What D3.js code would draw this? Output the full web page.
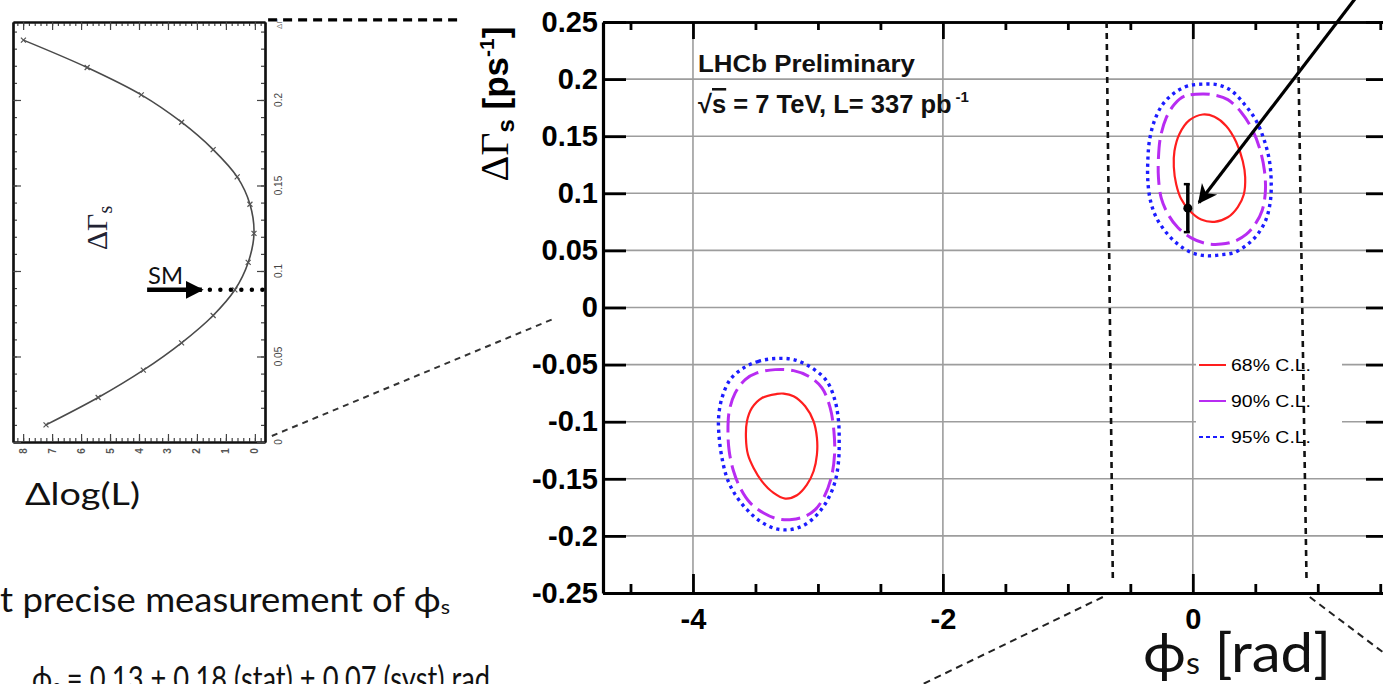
<!DOCTYPE html>
<html lang="en">
<head>
    <meta charset="UTF-8">
    <title>phi_s vs DeltaGamma_s</title>
    <script src="https://cdn.jsdelivr.net/npm/d3@7"></script>
    <style>
    html, body { padding: 0; margin: 0; background: #fff; }
    svg { display: block; }
    .slide { font-family: Lato, 'Open Sans', 'DejaVu Sans', sans-serif; fill: #111; }
    .plot text { font-family: 'Liberation Sans', Arial, sans-serif; }
    </style>
</head>
<body>
<div id="chart"></div>
<script>
// ---- main plot: ticks
const phiMajor = [-4, -2, 0];
const phiMinor = [-4.5, -3.5, -3, -2.5, -1.5, -1, -0.5, 0.5, 1, 1.5];
const dgTicks = [-0.25, -0.2, -0.15, -0.1, -0.05, 0, 0.05, 0.1, 0.15, 0.2, 0.25];
const dgGrid = [-0.2, -0.15, -0.1, -0.05, 0, 0.05, 0.1, 0.15, 0.2];

// ---- contours, [phi_s, DeltaGamma_s]
const c68Upper = [[0.080,0.169],[-0.027,0.164],[-0.107,0.152],[-0.147,0.137],[-0.152,0.123],[-0.133,0.108],[-0.093,0.095],[-0.027,0.085],[0.067,0.077],[0.173,0.075],[0.280,0.079],[0.360,0.088],[0.408,0.099],[0.419,0.114],[0.400,0.128],[0.347,0.145],[0.267,0.159],[0.173,0.167]];
const c90Upper = [[0.080,0.187],[-0.067,0.185],[-0.147,0.178],[-0.213,0.166],[-0.259,0.149],[-0.275,0.131],[-0.275,0.114],[-0.253,0.096],[-0.200,0.082],[-0.120,0.070],[-0.013,0.061],[0.107,0.056],[0.227,0.0555],[0.333,0.058],[0.427,0.064],[0.499,0.073],[0.555,0.085],[0.581,0.102],[0.573,0.120],[0.541,0.137],[0.480,0.155],[0.387,0.171],[0.280,0.182],[0.173,0.186]];
const c95Upper = [[0.080,0.1956],[-0.040,0.194],[-0.147,0.188],[-0.240,0.178],[-0.307,0.1635],[-0.347,0.146],[-0.360,0.1285],[-0.360,0.111],[-0.339,0.0935],[-0.293,0.079],[-0.213,0.0657],[-0.120,0.0555],[-0.013,0.0482],[0.107,0.0453],[0.227,0.0462],[0.333,0.0482],[0.440,0.0555],[0.520,0.0643],[0.587,0.0774],[0.621,0.0935],[0.627,0.111],[0.613,0.1285],[0.573,0.146],[0.507,0.1635],[0.413,0.178],[0.307,0.190],[0.200,0.195]];
const c68Lower = [[-3.328,-0.0757],[-3.448,-0.0792],[-3.528,-0.0879],[-3.568,-0.0996],[-3.576,-0.1142],[-3.560,-0.1288],[-3.515,-0.1405],[-3.448,-0.1522],[-3.355,-0.1624],[-3.262,-0.1673],[-3.168,-0.1644],[-3.088,-0.1551],[-3.035,-0.1434],[-3.008,-0.1288],[-3.008,-0.1142],[-3.035,-0.0996],[-3.102,-0.0865],[-3.195,-0.0777],[-3.275,-0.0754]];
const c90Lower = [[-3.342,-0.0544],[-3.488,-0.0573],[-3.582,-0.0631],[-3.662,-0.0748],[-3.710,-0.0909],[-3.720,-0.1084],[-3.710,-0.1259],[-3.675,-0.1434],[-3.622,-0.158],[-3.542,-0.1711],[-3.435,-0.1799],[-3.328,-0.1849],[-3.208,-0.1857],[-3.102,-0.1828],[-3.022,-0.177],[-2.955,-0.1668],[-2.894,-0.1492],[-2.867,-0.1288],[-2.872,-0.1084],[-2.902,-0.0879],[-2.968,-0.0704],[-3.075,-0.0602],[-3.195,-0.0553]];
const c95Lower = [[-3.342,-0.0447],[-3.475,-0.0471],[-3.595,-0.0529],[-3.702,-0.0631],[-3.768,-0.0792],[-3.795,-0.0967],[-3.790,-0.1142],[-3.768,-0.1317],[-3.728,-0.1492],[-3.662,-0.1638],[-3.568,-0.1770],[-3.462,-0.1872],[-3.342,-0.1936],[-3.222,-0.1945],[-3.102,-0.1901],[-2.995,-0.1799],[-2.915,-0.1668],[-2.862,-0.1522],[-2.835,-0.1346],[-2.830,-0.1171],[-2.835,-0.0996],[-2.862,-0.0821],[-2.928,-0.0646],[-3.048,-0.0529],[-3.195,-0.0456]];

const clLabels = ["68% C.L.", "90% C.L.", "95% C.L."];
const clColors = ["#ff1e1e", "#b82cf2", "#1c1cff"];

// SM prediction
const smPhi = -0.04, smDG = 0.087, smErr = 0.021;
// annotation arrow and slide guide lines (phi_s, DeltaGamma_s)
const arrowFrom = [1.66, 0.322], arrowTo = [0.05, 0.092];
const guideLeft = [[-0.69, 0.25], [-0.64, -0.239]];
const guideRight = [[0.84, 0.25], [0.91, -0.239]];
const linkLeft = [[-0.72, -0.2535], [-2.24, -0.334]];
const linkRight = [[0.936, -0.2535], [1.62, -0.31]];
const linkTop = [[-7.40, 0.2518], [-5.85, 0.2518]];
const linkLow = [[-7.37, -0.1125], [-5.10, -0.0092]];

// ---- inset: likelihood scan
const scanDLL = [7.99, 5.79, 3.92, 2.53, 1.44, 0.61, 0.17, 0.03, 0.23, 0.69, 1.44, 2.53, 3.85, 5.41, 7.21];
const scanDG = [0.235, 0.219, 0.203, 0.187, 0.171, 0.155, 0.139, 0.122, 0.105, 0.089, 0.074, 0.058, 0.042, 0.026, 0.010];
const insetDllTicks = [0, 1, 2, 3, 4, 5, 6, 7, 8];
const insetDgTicks = [0, 0.05, 0.1, 0.15, 0.2];
const smArrowFrom = 3.72, smArrowTo = 1.83, smLevel = 0.089;

var width = 1383, height = 684;

var svg = d3.select("#chart").append("svg")
    .attr("width", width)
    .attr("height", height);

svg.append("defs").append("marker")
    .attr("id", "head")
    .attr("viewBox", "0 0 10 10")
    .attr("refX", 9).attr("refY", 5)
    .attr("markerWidth", 7).attr("markerHeight", 6)
    .attr("orient", "auto")
    .append("path").attr("d", "M0,0L10,5L0,10L3,5Z").attr("fill", "#000");
svg.select("defs").append("marker")
    .attr("id", "headSM")
    .attr("viewBox", "0 0 10 10")
    .attr("refX", 9).attr("refY", 5)
    .attr("markerWidth", 4).attr("markerHeight", 4)
    .attr("orient", "auto")
    .append("path").attr("d", "M0,0L10,5L0,10Z").attr("fill", "#000");

var x = d3.scaleLinear().domain([-4.72, 1.57]).range([603, 1389]),
    y = d3.scaleLinear().domain([-0.25, 0.25]).range([593, 22]);

var plot = svg.append("g").attr("class", "plot");

// grid
plot.append("g").selectAll("line").data(dgGrid).enter().append("line")
    .attr("x1", x.range()[0]).attr("x2", x.range()[1])
    .attr("y1", d => y(d)).attr("y2", d => y(d))
    .attr("stroke", "#9d9d9d").attr("stroke-width", 1.6);
plot.append("g").selectAll("line").data(phiMajor).enter().append("line")
    .attr("x1", d => x(d)).attr("x2", d => x(d))
    .attr("y1", y(-0.25)).attr("y2", y(0.25))
    .attr("stroke", "#9d9d9d").attr("stroke-width", 1.6);

// legend background hides grid
plot.append("rect").attr("x", 1196).attr("y", 332).attr("width", 146).attr("height", 118).attr("fill", "#fff");

function styleAxis(g, w) {
    g.select(".domain").attr("stroke", "#000").attr("stroke-width", w);
    g.selectAll(".tick line").attr("stroke", "#000").attr("stroke-width", 2.8);
}
var noLab = () => "";

// left / right
var gl = plot.append("g").attr("transform", `translate(${x.range()[0]},0)`)
    .call(d3.axisLeft(y).tickValues(dgTicks).tickSize(-23).tickSizeOuter(0).tickPadding(5).tickFormat(d => String(d)));
styleAxis(gl, 3.2);
gl.selectAll("text").attr("font-size", 29).attr("font-weight", "bold").attr("fill", "#000")
    .attr("font-family", "'Liberation Sans', Arial, sans-serif");

var gr = plot.append("g").attr("transform", `translate(${x.range()[1]},0)`)
    .call(d3.axisRight(y).tickValues(dgTicks).tickSize(-23).tickSizeOuter(0).tickFormat(noLab));
styleAxis(gr, 3);

// bottom
var gb = plot.append("g").attr("transform", `translate(0,${y.range()[0]})`)
    .call(d3.axisBottom(x).tickValues(phiMajor).tickSize(-19).tickSizeOuter(0).tickPadding(15).tickFormat(d => String(d)));
styleAxis(gb, 3.2);
gb.selectAll("text").attr("font-size", 29).attr("font-weight", "bold").attr("fill", "#000")
    .attr("font-family", "'Liberation Sans', Arial, sans-serif");
var gbm = plot.append("g").attr("transform", `translate(0,${y.range()[0]})`)
    .call(d3.axisBottom(x).tickValues(phiMinor).tickSize(-9).tickSizeOuter(0).tickFormat(noLab));
styleAxis(gbm, 3.2);

// top
var gt = plot.append("g").attr("transform", `translate(0,${y.range()[1]})`)
    .call(d3.axisTop(x).tickValues(phiMajor).tickSize(-17).tickSizeOuter(0).tickFormat(noLab));
styleAxis(gt, 2.6);
var gtm = plot.append("g").attr("transform", `translate(0,${y.range()[1]})`)
    .call(d3.axisTop(x).tickValues(phiMinor).tickSize(-8).tickSizeOuter(0).tickFormat(noLab));
styleAxis(gtm, 2.6);

// contours
var contour = d3.line().x(d => x(d[0])).y(d => y(d[1])).curve(d3.curveCatmullRomClosed);
var styles = [
    { w: 2.2, dash: null },
    { w: 3, dash: "19,7" },
    { w: 3.4, dash: "3.2,4" }
];
[[c68Upper, c68Lower], [c90Upper, c90Lower], [c95Upper, c95Lower]].forEach((pair, i) => {
    pair.forEach(c => {
        plot.append("path").attr("d", contour(c))
            .attr("fill", "none")
            .attr("stroke", clColors[i])
            .attr("stroke-width", styles[i].w)
            .attr("stroke-dasharray", styles[i].dash);
    });
});

// SM point with error
plot.append("line")
    .attr("x1", x(smPhi)).attr("x2", x(smPhi))
    .attr("y1", y(smDG + smErr)).attr("y2", y(smDG - smErr))
    .attr("stroke", "#000").attr("stroke-width", 3.5);
[smDG + smErr, smDG - smErr].forEach(v => {
    plot.append("line")
        .attr("x1", x(smPhi) - 4).attr("x2", x(smPhi) + 2)
        .attr("y1", y(v)).attr("y2", y(v))
        .attr("stroke", "#000").attr("stroke-width", 2.5);
});
plot.append("circle").attr("cx", x(smPhi)).attr("cy", y(smDG)).attr("r", 4.5).attr("fill", "#000");

// texts
plot.append("text").attr("x", 698).attr("y", 72)
    .attr("font-size", 23).attr("font-weight", "bold").attr("fill", "#111")
    .attr("textLength", 217).attr("lengthAdjust", "spacingAndGlyphs")
    .text("LHCb Preliminary");
var t2 = plot.append("text").attr("x", 698).attr("y", 113)
    .attr("font-size", 25.5).attr("font-weight", "bold").attr("fill", "#111");
t2.append("tspan").text("\u221a");
t2.append("tspan").attr("text-decoration", "overline").text("s");
t2.append("tspan").text(" = 7 TeV, L= 337 pb");
t2.append("tspan").attr("font-size", 15).attr("dy", -11).attr("dx", 4).text("-1");

// legend
var leg = plot.append("g").selectAll("g").data(clLabels).enter().append("g")
    .attr("transform", (d, i) => `translate(1199,${365 + i * 36})`);
leg.append("line").attr("x1", 0).attr("x2", 27)
    .attr("stroke", (d, i) => clColors[i]).attr("stroke-width", 2)
    .attr("stroke-dasharray", (d, i) => i == 2 ? "4,3" : null);
leg.append("text").attr("x", 32).attr("dy", "0.36em")
    .attr("font-size", 16).attr("fill", "#000")
    .attr("textLength", 80).attr("lengthAdjust", "spacingAndGlyphs")
    .text(d => d);

// y label
var yl = plot.append("text").attr("transform", "translate(508,104) rotate(-90)")
    .attr("text-anchor", "middle").attr("fill", "#000");
yl.append("tspan").attr("font-family", "'Liberation Serif', serif").attr("font-size", 40).text("\u0394\u0393");
yl.append("tspan").attr("font-size", 24).attr("font-weight", "bold").attr("dy", 6).text("s");
yl.append("tspan").attr("font-size", 35).attr("font-weight", "bold").attr("dy", -6).text(" [ps");
yl.append("tspan").attr("font-size", 21).attr("font-weight", "bold").attr("dy", -14).text("-1");
yl.append("tspan").attr("font-size", 35).attr("font-weight", "bold").attr("dy", 14).text("]");

// arrow and guides
svg.append("line")
    .attr("x1", x(arrowFrom[0])).attr("y1", y(arrowFrom[1]))
    .attr("x2", x(arrowTo[0])).attr("y2", y(arrowTo[1]))
    .attr("stroke", "#000").attr("stroke-width", 3.2)
    .attr("marker-end", "url(#head)");

function guide(p, w, dash, col) {
    svg.append("line")
        .attr("x1", x(p[0][0])).attr("y1", y(p[0][1]))
        .attr("x2", x(p[1][0])).attr("y2", y(p[1][1]))
        .attr("stroke", col).attr("stroke-width", w).attr("stroke-dasharray", dash);
}
guide(guideLeft, 2.6, "6,5", "#111");
guide(guideRight, 2.6, "6,5", "#111");
guide(linkLeft, 2, "7,5", "#222");
guide(linkRight, 2, "7,5", "#222");
guide(linkTop, 3.2, "9,6", "#000");
guide(linkLow, 2, "6,5", "#333");

// ---- inset
var ix = d3.scaleLinear().domain([8.35, -0.35]).range([13, 265]),
    iy = d3.scaleLinear().domain([0, 0.2456]).range([442, 22]);
var inset = svg.append("g").attr("class", "plot");

function insetAxis(axis, tr) {
    var g = inset.append("g").attr("transform", tr).call(axis);
    g.select(".domain").attr("stroke", "#111").attr("stroke-width", 2.2);
    g.selectAll(".tick line").attr("stroke", "#444").attr("stroke-width", 1.2);
    return g;
}
insetAxis(d3.axisBottom(ix).ticks(44).tickSize(-4).tickSizeOuter(0).tickFormat(noLab), `translate(0,${iy.range()[0]})`);
insetAxis(d3.axisBottom(ix).tickValues(insetDllTicks).tickSize(-8).tickSizeOuter(0).tickFormat(noLab), `translate(0,${iy.range()[0]})`);
insetAxis(d3.axisTop(ix).ticks(44).tickSize(-4).tickSizeOuter(0).tickFormat(noLab), `translate(0,${iy.range()[1]})`);
insetAxis(d3.axisTop(ix).tickValues(insetDllTicks).tickSize(-8).tickSizeOuter(0).tickFormat(noLab), `translate(0,${iy.range()[1]})`);
insetAxis(d3.axisLeft(iy).ticks(25).tickSize(-4).tickSizeOuter(0).tickFormat(noLab), `translate(${ix.range()[0]},0)`);
insetAxis(d3.axisLeft(iy).tickValues(insetDgTicks).tickSize(-8).tickSizeOuter(0).tickFormat(noLab), `translate(${ix.range()[0]},0)`);
insetAxis(d3.axisRight(iy).ticks(25).tickSize(-4).tickSizeOuter(0).tickFormat(noLab), `translate(${ix.range()[1]},0)`);
insetAxis(d3.axisRight(iy).tickValues(insetDgTicks).tickSize(-8).tickSizeOuter(0).tickFormat(noLab), `translate(${ix.range()[1]},0)`);

inset.selectAll(".dll").data(insetDllTicks).enter().append("text")
    .attr("transform", d => `translate(${ix(d) + 3.5},451) rotate(-90)`)
    .attr("text-anchor", "middle").attr("font-size", 10).attr("font-weight", "bold").attr("fill", "#555")
    .text(d => d);
inset.selectAll(".dg").data(insetDgTicks).enter().append("text")
    .attr("transform", d => `translate(${ix.range()[1] + 17},${iy(d)}) rotate(-90)`)
    .attr("text-anchor", "middle").attr("font-size", 10).attr("fill", "#444")
    .text(d => d);
inset.append("text")
    .attr("transform", `translate(${ix.range()[1] + 17},${iy.range()[1] + 2}) rotate(-90)`)
    .attr("text-anchor", "middle").attr("font-size", 8).attr("fill", "#777")
    .text("\u0394\u0393");

var scan = scanDG.map((g, i) => [scanDLL[i], g]);
inset.append("path")
    .attr("d", d3.line().x(d => ix(d[0])).y(d => iy(d[1])).curve(d3.curveCatmullRom)(scan))
    .attr("fill", "none").attr("stroke", "#4a4a4a").attr("stroke-width", 1.6);
inset.selectAll(".pt").data(scan).enter().append("path")
    .attr("transform", d => `translate(${ix(d[0])},${iy(d[1])})`)
    .attr("d", "M-2.5,-2.5L2.5,2.5M-2.5,2.5L2.5,-2.5")
    .attr("stroke", "#555").attr("stroke-width", 1.2);

var il = inset.append("text").attr("transform", "translate(107,228) rotate(-90)")
    .attr("text-anchor", "middle").attr("fill", "#223");
il.append("tspan").attr("font-family", "'Liberation Serif', serif").attr("font-size", 30).text("\u0394\u0393");
il.append("tspan").attr("font-family", "'Liberation Serif', serif").attr("font-size", 20).attr("dy", 5).text("s");

// SM arrow
inset.append("line")
    .attr("x1", ix(smArrowFrom)).attr("x2", ix(smArrowTo))
    .attr("y1", iy(smLevel)).attr("y2", iy(smLevel))
    .attr("stroke", "#000").attr("stroke-width", 4.5)
    .attr("marker-end", "url(#headSM)");
inset.append("line")
    .attr("x1", ix(smArrowTo) + 8).attr("x2", ix.range()[1] + 2)
    .attr("y1", iy(smLevel)).attr("y2", iy(smLevel))
    .attr("stroke", "#000").attr("stroke-width", 4.5)
    .attr("stroke-linecap", "round").attr("stroke-dasharray", "0,10.5");
svg.append("text").attr("class", "slide").attr("x", 148).attr("y", 284)
    .attr("font-size", 23).attr("textLength", 35).attr("lengthAdjust", "spacingAndGlyphs")
    .text("SM");

// ---- slide texts
svg.append("text").attr("class", "slide").attr("x", 25).attr("y", 505)
    .attr("font-size", 31).attr("textLength", 115).attr("lengthAdjust", "spacingAndGlyphs")
    .text("\u0394log(L)");

var s1 = svg.append("text").attr("class", "slide").attr("x", 0).attr("y", 612).attr("font-size", 34)
    .attr("textLength", 450).attr("lengthAdjust", "spacingAndGlyphs");
s1.append("tspan").text("t precise measurement of \u03d5");
s1.append("tspan").attr("font-size", 20).attr("dy", 2).text("s");

var s2 = svg.append("text").attr("class", "slide").attr("x", 32).attr("y", 691).attr("font-size", 34)
    .attr("textLength", 458).attr("lengthAdjust", "spacingAndGlyphs");
s2.append("tspan").text("\u03d5");
s2.append("tspan").attr("font-size", 20).attr("dy", 2).attr("dx", 1).text("s");
s2.append("tspan").attr("dy", -2).text(" = 0.13 \u00b1 0.18 (stat) \u00b1 0.07 (syst) rad");

var xl = svg.append("text").attr("class", "slide").attr("x", 1143).attr("y", 672).attr("font-size", 54)
    .attr("textLength", 188).attr("lengthAdjust", "spacingAndGlyphs");
xl.append("tspan").text("\u03d5");
xl.append("tspan").attr("font-size", 30).attr("dy", 2).text("s");
xl.append("tspan").attr("dy", -2).text(" [rad]");
</script>
</body>
</html>
